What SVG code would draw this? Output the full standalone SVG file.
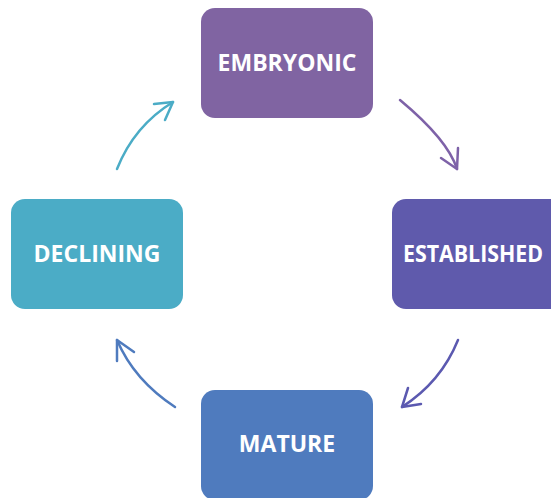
<svg xmlns="http://www.w3.org/2000/svg" width="551" height="498" viewBox="0 0 551 498">
<style>
.box{stroke:none}
.lbl{font-family:"Open Sans","Liberation Sans",sans-serif;font-weight:bold;font-size:23px;fill:#fff;text-anchor:middle}
.arr{fill:none;stroke-width:2.5;stroke-linecap:round;stroke-linejoin:round}
</style>
<rect width="551" height="498" fill="#fff"/>
<g id="connectors">
<g stroke="#7E62A8" class="arr"><path d="M400,100 Q448,140 457,169"/><path d="M441,158 L457,169 L458,148"/></g>
<g stroke="#5B59B0" class="arr"><path d="M458,340 Q441,382 402,407"/><path d="M408,388 L402,407 L421,404"/></g>
<g stroke="#4F7BBE" class="arr"><path d="M175,407 Q134,380 117,340"/><path d="M117,361 L117,340 L134,352"/></g>
<g stroke="#4BACC6" class="arr"><path d="M117,169 Q134,126 173,102"/><path d="M154,104 L173,102 L165,120"/></g>
</g>
<g id="embryonic"><rect class="box" x="201" y="8" width="172" height="110" rx="14" fill="#8064A2"/><text class="lbl" x="287" y="71">EMBRYONIC</text></g>
<g id="established"><rect class="box" x="392" y="199" width="172" height="110" rx="14" fill="#5F5AAC"/><text class="lbl" x="473" y="262" textLength="140" lengthAdjust="spacingAndGlyphs">ESTABLISHED</text></g>
<g id="mature"><rect class="box" x="201" y="390" width="172" height="110" rx="14" fill="#4F7BBE"/><text class="lbl" x="287" y="452">MATURE</text></g>
<g id="declining"><rect class="box" x="11" y="199" width="172" height="110" rx="14" fill="#4BACC6"/><text class="lbl" x="97" y="262">DECLINING</text></g>
</svg>
